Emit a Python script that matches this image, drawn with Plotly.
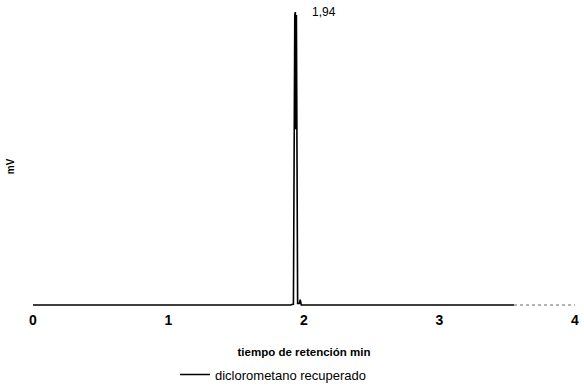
import plotly.graph_objects as go

# retention time (min) and signal (mV, relative)
t_main = [0.0, 0.40, 0.70, 0.80, 1.20, 1.60, 1.90, 1.922, 1.928, 1.932, 1.936, 1.940, 1.944, 1.948, 1.953, 1.965, 1.972, 1.980, 2.10, 2.60, 3.00, 3.30, 3.55]
mv_main = [0.0, 0.0, 0.2, 0.2, 0.0, 0.0, 0.0, 0.3, 80.0, 99.0, 100.0, 60.0, 99.0, 40.0, 0.5, 0.5, 1.8, 0.0, 0.0, 0.0, 0.0, 0.0, 0.0]
t_tail = [3.55, 4.0]
mv_tail = [0.0, 0.0]

peak_label = "1,94"
peak_time = 1.94
peak_height = 100.0
x_ticks = [0, 1, 2, 3, 4]

fig = go.Figure()
fig.add_trace(go.Scatter(x=t_main, y=mv_main, mode="lines",
                         line=dict(color="black", width=1.6),
                         name="diclorometano recuperado", showlegend=True))
fig.add_trace(go.Scatter(x=t_tail, y=mv_tail, mode="lines",
                         line=dict(color="#999999", width=1.5, dash="dot"),
                         showlegend=False, hoverinfo="skip"))

fig.add_annotation(x=peak_time, y=peak_height, text=peak_label, showarrow=False,
                   xanchor="left", yanchor="middle", xshift=14,
                   font=dict(family="Liberation Sans", size=12, color="black"))
fig.add_annotation(x=-0.056, y=0.48, xref="paper", yref="paper", text="<b>mV</b>",
                   textangle=-90, showarrow=False,
                   font=dict(family="Liberation Sans", size=10, color="black"))

fig.update_layout(
    width=584, height=389,
    margin=dict(l=33, r=9, t=10, b=79, autoexpand=False),
    paper_bgcolor="white", plot_bgcolor="white",
    font=dict(family="Liberation Sans", color="black"),
    showlegend=True,
    legend=dict(x=0.262, y=-0.165, xanchor="left", yanchor="top",
                font=dict(family="Liberation Sans", size=13, color="black"),
                bgcolor="rgba(0,0,0,0)"),
    xaxis=dict(range=[0, 4], tickvals=x_ticks, ticktext=[f"<b>{v}</b>" for v in x_ticks],
               showgrid=False, zeroline=False, showline=False, ticks="",
               tickfont=dict(size=14, family="Liberation Sans"),
               title=dict(text="<b>tiempo de retención min</b>",
                          font=dict(size=11.5, family="Liberation Sans"), standoff=20)),
    yaxis=dict(range=[-1.71, 100.7], showticklabels=False, showgrid=False,
               zeroline=False, showline=False, ticks=""),
)

fig.write_html("out.html")
